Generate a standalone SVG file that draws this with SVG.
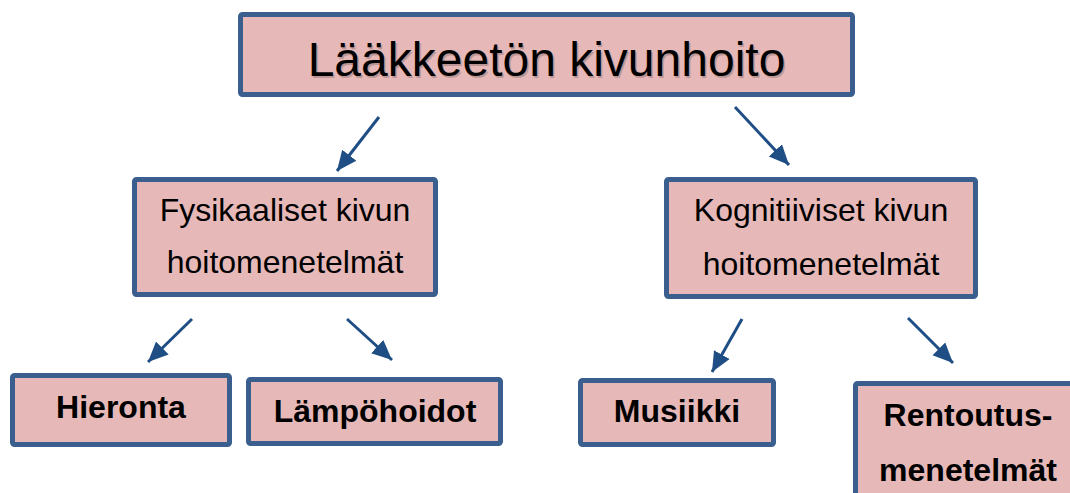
<svg xmlns="http://www.w3.org/2000/svg" width="1070" height="493" viewBox="0 0 1070 493">
<style>
.box{fill:#E6B8B7;stroke:#3A5F8F;stroke-width:5}
.t{font-family:"Liberation Sans",Arial,sans-serif;fill:#000;text-anchor:middle}
.b{font-weight:bold}
.c{stroke:#1F4E85;stroke-width:3;fill:none;marker-end:url(#ah)}
</style>
<defs>
<marker id="ah" markerUnits="userSpaceOnUse" markerWidth="22" markerHeight="20" viewBox="0 0 22 20" refX="20" refY="10" orient="auto">
<path d="M0,1 L20,10 L0,19 Z" fill="#1F4E85"/>
</marker>
</defs>
<rect width="1070" height="493" fill="#fff"/>
<g id="root">
<rect class="box" x="240.5" y="14.5" width="612" height="80" rx="2"/>
<text class="t" x="546.5" y="76" font-size="48" fill="#000" opacity="0.18" transform="translate(1.5,1.5)">Lääkkeetön kivunhoito</text>
<text class="t" x="546.5" y="76" font-size="48">Lääkkeetön kivunhoito</text>
</g>
<g id="fysikaaliset">
<rect class="box" x="134.5" y="179.5" width="301" height="115" rx="2"/>
<text class="t" x="285" y="221" font-size="32">Fysikaaliset kivun</text>
<text class="t" x="285" y="273" font-size="32">hoitomenetelmät</text>
</g>
<g id="kognitiiviset">
<rect class="box" x="666.5" y="179.5" width="309" height="117" rx="2"/>
<text class="t" x="821" y="221" font-size="32">Kognitiiviset kivun</text>
<text class="t" x="821" y="275" font-size="32">hoitomenetelmät</text>
</g>
<g id="hieronta">
<rect class="box" x="12.5" y="375.5" width="217" height="69" rx="2"/>
<text class="t b" x="121" y="418" font-size="32">Hieronta</text>
</g>
<g id="lampohoidot">
<rect class="box" x="248.5" y="379.5" width="252" height="64" rx="2"/>
<text class="t b" x="375" y="422" font-size="32">Lämpöhoidot</text>
</g>
<g id="musiikki">
<rect class="box" x="580.5" y="380.5" width="193" height="64" rx="2"/>
<text class="t b" x="677" y="422" font-size="32">Musiikki</text>
</g>
<g id="rentoutus">
<rect class="box" x="855.5" y="383.5" width="230" height="130" rx="2"/>
<text class="t b" x="968" y="426" font-size="32">Rentoutus-</text>
<text class="t b" x="968" y="481" font-size="32">menetelmät</text>
</g>
<g id="connectors">
<line class="c" x1="379" y1="117" x2="337" y2="171"/>
<line class="c" x1="735" y1="107" x2="789" y2="165"/>
<line class="c" x1="192" y1="319" x2="148" y2="362"/>
<line class="c" x1="347" y1="319" x2="392" y2="360"/>
<line class="c" x1="742" y1="319" x2="712" y2="372"/>
<line class="c" x1="908" y1="318" x2="953" y2="363"/>
</g>
</svg>
